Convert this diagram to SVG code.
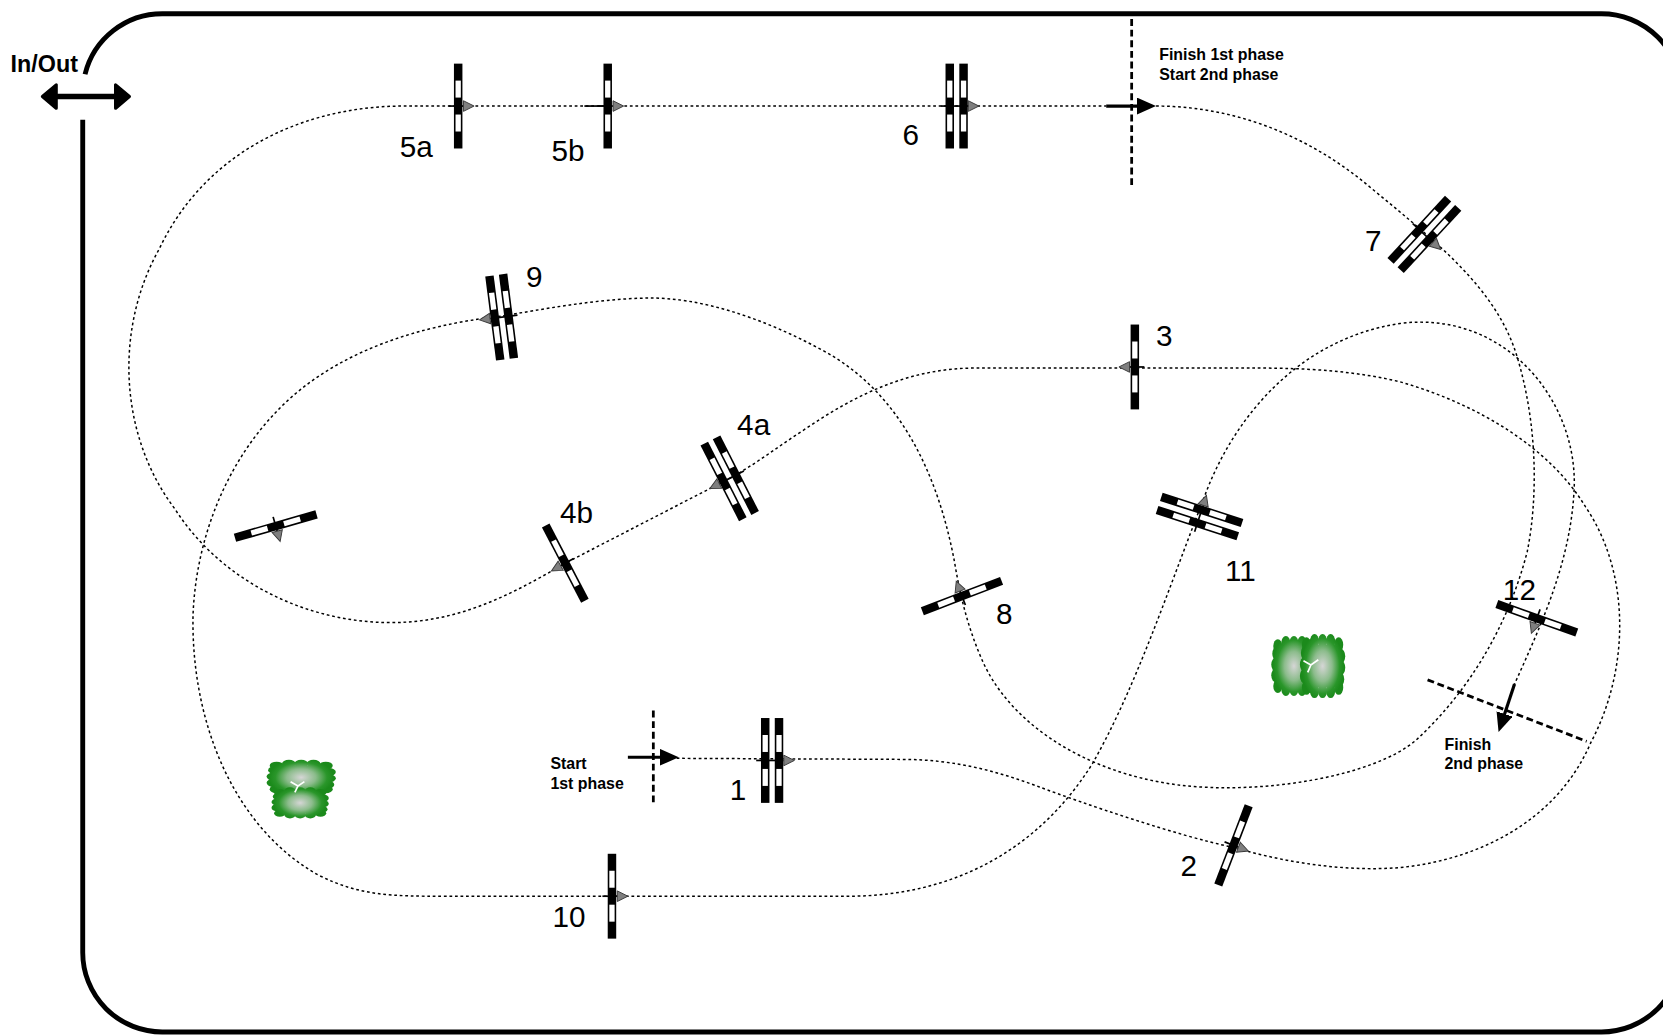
<svg xmlns="http://www.w3.org/2000/svg" width="1663" height="1035" viewBox="0 0 1663 1035">
<style>
.route{fill:none;stroke:#000;stroke-width:1.4;stroke-dasharray:2.6 2.6}
.dash{fill:none;stroke:#000;stroke-width:2.6;stroke-dasharray:6.5 3.5}
.solid{fill:none;stroke:#000;stroke-width:3}
.num{font-family:"Liberation Sans",Arial,sans-serif;font-size:28px;fill:#000}
.note{font-family:"Liberation Sans",Arial,sans-serif;font-size:15px;font-weight:bold;fill:#000}
.border{fill:none;stroke:#000;stroke-width:4.6}
.tick{stroke:#000;stroke-width:1.6}
.tri{fill:#7f7f7f;stroke:#3a3a3a;stroke-width:0.9}
</style>
<defs>
<marker id="head" markerUnits="userSpaceOnUse" markerWidth="18" markerHeight="16" viewBox="0 0 18 16" refX="2" refY="8" orient="auto"><path d="M0,0 L18,8 L0,16 z" fill="#000"/></marker>
<g id="pole" fill="#000"><rect x="-4" y="-40" width="8" height="80"/><rect x="-2.5" y="-24" width="5" height="16" fill="#fff"/><rect x="-2.5" y="8" width="5" height="16" fill="#fff"/></g>
<g id="pole2"><use href="#pole" x="-6.5"/><use href="#pole" x="6.5"/></g>
<g id="dir"><path class="tick" d="M-9,0 H5"/><path class="tri" d="M5,-5 L15,0 L5,5 z"/></g>
<g id="dir2"><path class="tick" d="M-15,0 H11"/><path class="tri" d="M11,-5 L21,0 L11,5 z"/></g>
<radialGradient id="bushG" gradientUnits="userSpaceOnUse" cx="0" cy="0" r="21"><stop offset="0" stop-color="#d6d6d6"/><stop offset="0.45" stop-color="#8cbc8c"/><stop offset="0.8" stop-color="#2a962a"/><stop offset="1" stop-color="#1b8a1b"/></radialGradient>
<g id="lobe" fill="url(#bushG)"><rect x="-16" y="-13" width="32" height="26"/><circle cx="-16" cy="-13" r="4.5"/><circle cx="-8" cy="-15" r="4.5"/><circle cx="0" cy="-15" r="4.5"/><circle cx="8" cy="-15" r="4.5"/><circle cx="16" cy="-13" r="4.5"/><circle cx="18" cy="-6" r="4.5"/><circle cx="18" cy="1" r="4.5"/><circle cx="17" cy="8" r="4.5"/><circle cx="16" cy="13" r="4.5"/><circle cx="8" cy="15" r="4.5"/><circle cx="0" cy="15" r="4.5"/><circle cx="-8" cy="15" r="4.5"/><circle cx="-16" cy="13" r="4.5"/><circle cx="-18" cy="6" r="4.5"/><circle cx="-18" cy="-1" r="4.5"/><circle cx="-17" cy="-8" r="4.5"/></g>
</defs>
<rect width="1663" height="1035" fill="#fff"/>
<g transform="scale(1.0606)">
<g id="arena"><path class="border" d="M80.2,70 A75,75 0 0 1 153,13 L1510,13 A75,75 0 0 1 1585,88 L1585,898 A75,75 0 0 1 1510,973 L153,973 A75,75 0 0 1 78,898 L78,113"/></g>
<g id="inout">
<path d="M50,91 H112" stroke="#000" stroke-width="5"/>
<path d="M40,91 L53,80 L53,102 z M122,91 L109,80 L109,102 z" fill="#000" stroke="#000" stroke-width="3" stroke-linejoin="round"/>
<text x="10" y="68" font-family="Liberation Sans,Arial,sans-serif" font-size="22" font-weight="bold">In/Out</text>
</g>
<g id="connectors">
<path id="phase1" class="route" d="M638,715 L850,716 C900,716 940,727 980,742 S1110,788 1163,799 C1215,814 1270,822 1320,818 C1400,810 1470,770 1500,700 C1537,630 1537,540 1495,478 C1460,420 1390,380 1320,360 C1270,348 1220,347 1180,347 L920,347 C860,347 810,370 760,404 C735,420 712,438 688,451 L533,531 C480,562 430,588 365,587 C290,586 210,550 165,480 C112,410 108,310 150,235 C195,140 290,100 380,100 L1043,100"/>
<path id="phase2" class="route" d="M1090,100 C1160,100 1230,125 1290,175 C1350,225 1410,270 1430,335 C1450,400 1450,470 1440,520 C1422,590 1385,652 1335,698 C1295,732 1190,750 1110,740 C1020,728 950,680 925,620 C912,590 905,560 900,530 C885,450 850,370 775,330 C720,300 660,280 610,281 C560,282 510,292 473,298 C420,304 340,320 280,370 C220,420 185,500 182,580 C180,680 220,780 300,825 C340,845 370,845 420,845 L800,845 C900,845 980,800 1030,720 C1070,650 1100,560 1135,470 C1160,400 1220,320 1320,305 C1420,292 1490,380 1484,465 C1480,530 1455,585 1428,645"/>
<path class="solid" d="M592,714 H624" marker-end="url(#head)"/>
<path class="solid" d="M1043,100 H1074" marker-end="url(#head)"/>
<path class="solid" d="M1428,645 L1418,675" marker-end="url(#head)"/>
</g>
<g id="start1">
<path class="dash" d="M616,670 V757"/>
<text class="note" x="519" y="725">Start</text>
<text class="note" x="519" y="744">1st phase</text>
</g>
<g id="finish1">
<path class="dash" d="M1067,18 V178"/>
<text class="note" x="1093" y="57">Finish 1st phase</text>
<text class="note" x="1093" y="75">Start 2nd phase</text>
</g>
<g id="finish2">
<path class="dash" d="M1346,641 L1496,699"/>
<text class="note" x="1362" y="707">Finish</text>
<text class="note" x="1362" y="725">2nd phase</text>
</g>
<g id="j1" transform="translate(728,717)"><use href="#pole2"/><use href="#dir2"/><text class="num" x="-40" y="37">1</text></g>
<g id="j2" transform="translate(1163,797)"><use href="#pole" transform="rotate(21)"/><use href="#dir" transform="rotate(21)"/><text class="num" x="-50" y="29">2</text></g>
<g id="j3" transform="translate(1070,346)"><use href="#pole"/><use href="#dir" transform="rotate(180)"/><text class="num" x="20" y="-20">3</text></g>
<g id="j4a" transform="translate(688,451)"><use href="#pole2" transform="rotate(-27)"/><use href="#dir2" transform="rotate(153)"/><text class="num" x="7" y="-41">4a</text></g>
<g id="j4b" transform="translate(533,531)"><use href="#pole" transform="rotate(-27.5)"/><use href="#dir" transform="rotate(151)"/><text class="num" x="-5" y="-38">4b</text></g>
<g id="j5a" transform="translate(432,100)"><use href="#pole"/><use href="#dir"/><text class="num" x="-55" y="48">5a</text></g>
<g id="j5b" transform="translate(573,100)"><use href="#pole"/><path class="tick" d="M-22,0 H0"/><use href="#dir"/><text class="num" x="-53" y="52">5b</text></g>
<g id="j6" transform="translate(902,100)"><use href="#pole2"/><use href="#dir2"/><text class="num" x="-51" y="37">6</text></g>
<g id="j7" transform="translate(1343,221)"><use href="#pole2" transform="rotate(42.7)"/><use href="#dir2" transform="rotate(43)"/><text class="num" x="-56" y="16">7</text></g>
<g id="j8" transform="translate(907,562)"><use href="#pole" transform="rotate(69)"/><use href="#dir" transform="rotate(-111)"/><text class="num" x="32" y="26">8</text></g>
<g id="j9" transform="translate(473,299)"><use href="#pole2" transform="rotate(-7.3)"/><use href="#dir2" transform="rotate(173)"/><text class="num" x="23" y="-28">9</text></g>
<g id="j10" transform="translate(577,845)"><use href="#pole"/><use href="#dir"/><text class="num" x="-56" y="29">10</text></g>
<g id="j11" transform="translate(1131,487)"><use href="#pole2" transform="rotate(-72)"/><use href="#dir2" transform="rotate(-72)"/><text class="num" x="24" y="61">11</text></g>
<g id="j12" transform="translate(1449,583)"><use href="#pole" transform="rotate(-70.4)"/><use href="#dir" transform="rotate(110)"/><text class="num" x="-32" y="-17">12</text></g>
<g id="pole-x" transform="translate(260,496)"><use href="#pole" transform="rotate(74)"/><use href="#dir" transform="rotate(74)"/></g>
<g id="tree1"><use href="#lobe" transform="translate(284,733) scale(1.45,0.85)"/><use href="#lobe" transform="translate(283,757) scale(1.2,0.75)"/><path d="M274,737 L281,741 L287,737 M281,741 L278,747" stroke="#fff" stroke-width="1.6" fill="none"/></g>
<g id="tree2"><use href="#lobe" transform="translate(1220,628) scale(0.95,1.45)"/><use href="#lobe" transform="translate(1247,628) scale(0.95,1.55)"/><path d="M1229,623 L1236,627 L1243,622 M1236,627 L1233,634" stroke="#fff" stroke-width="1.6" fill="none"/></g>
</g>
</svg>
